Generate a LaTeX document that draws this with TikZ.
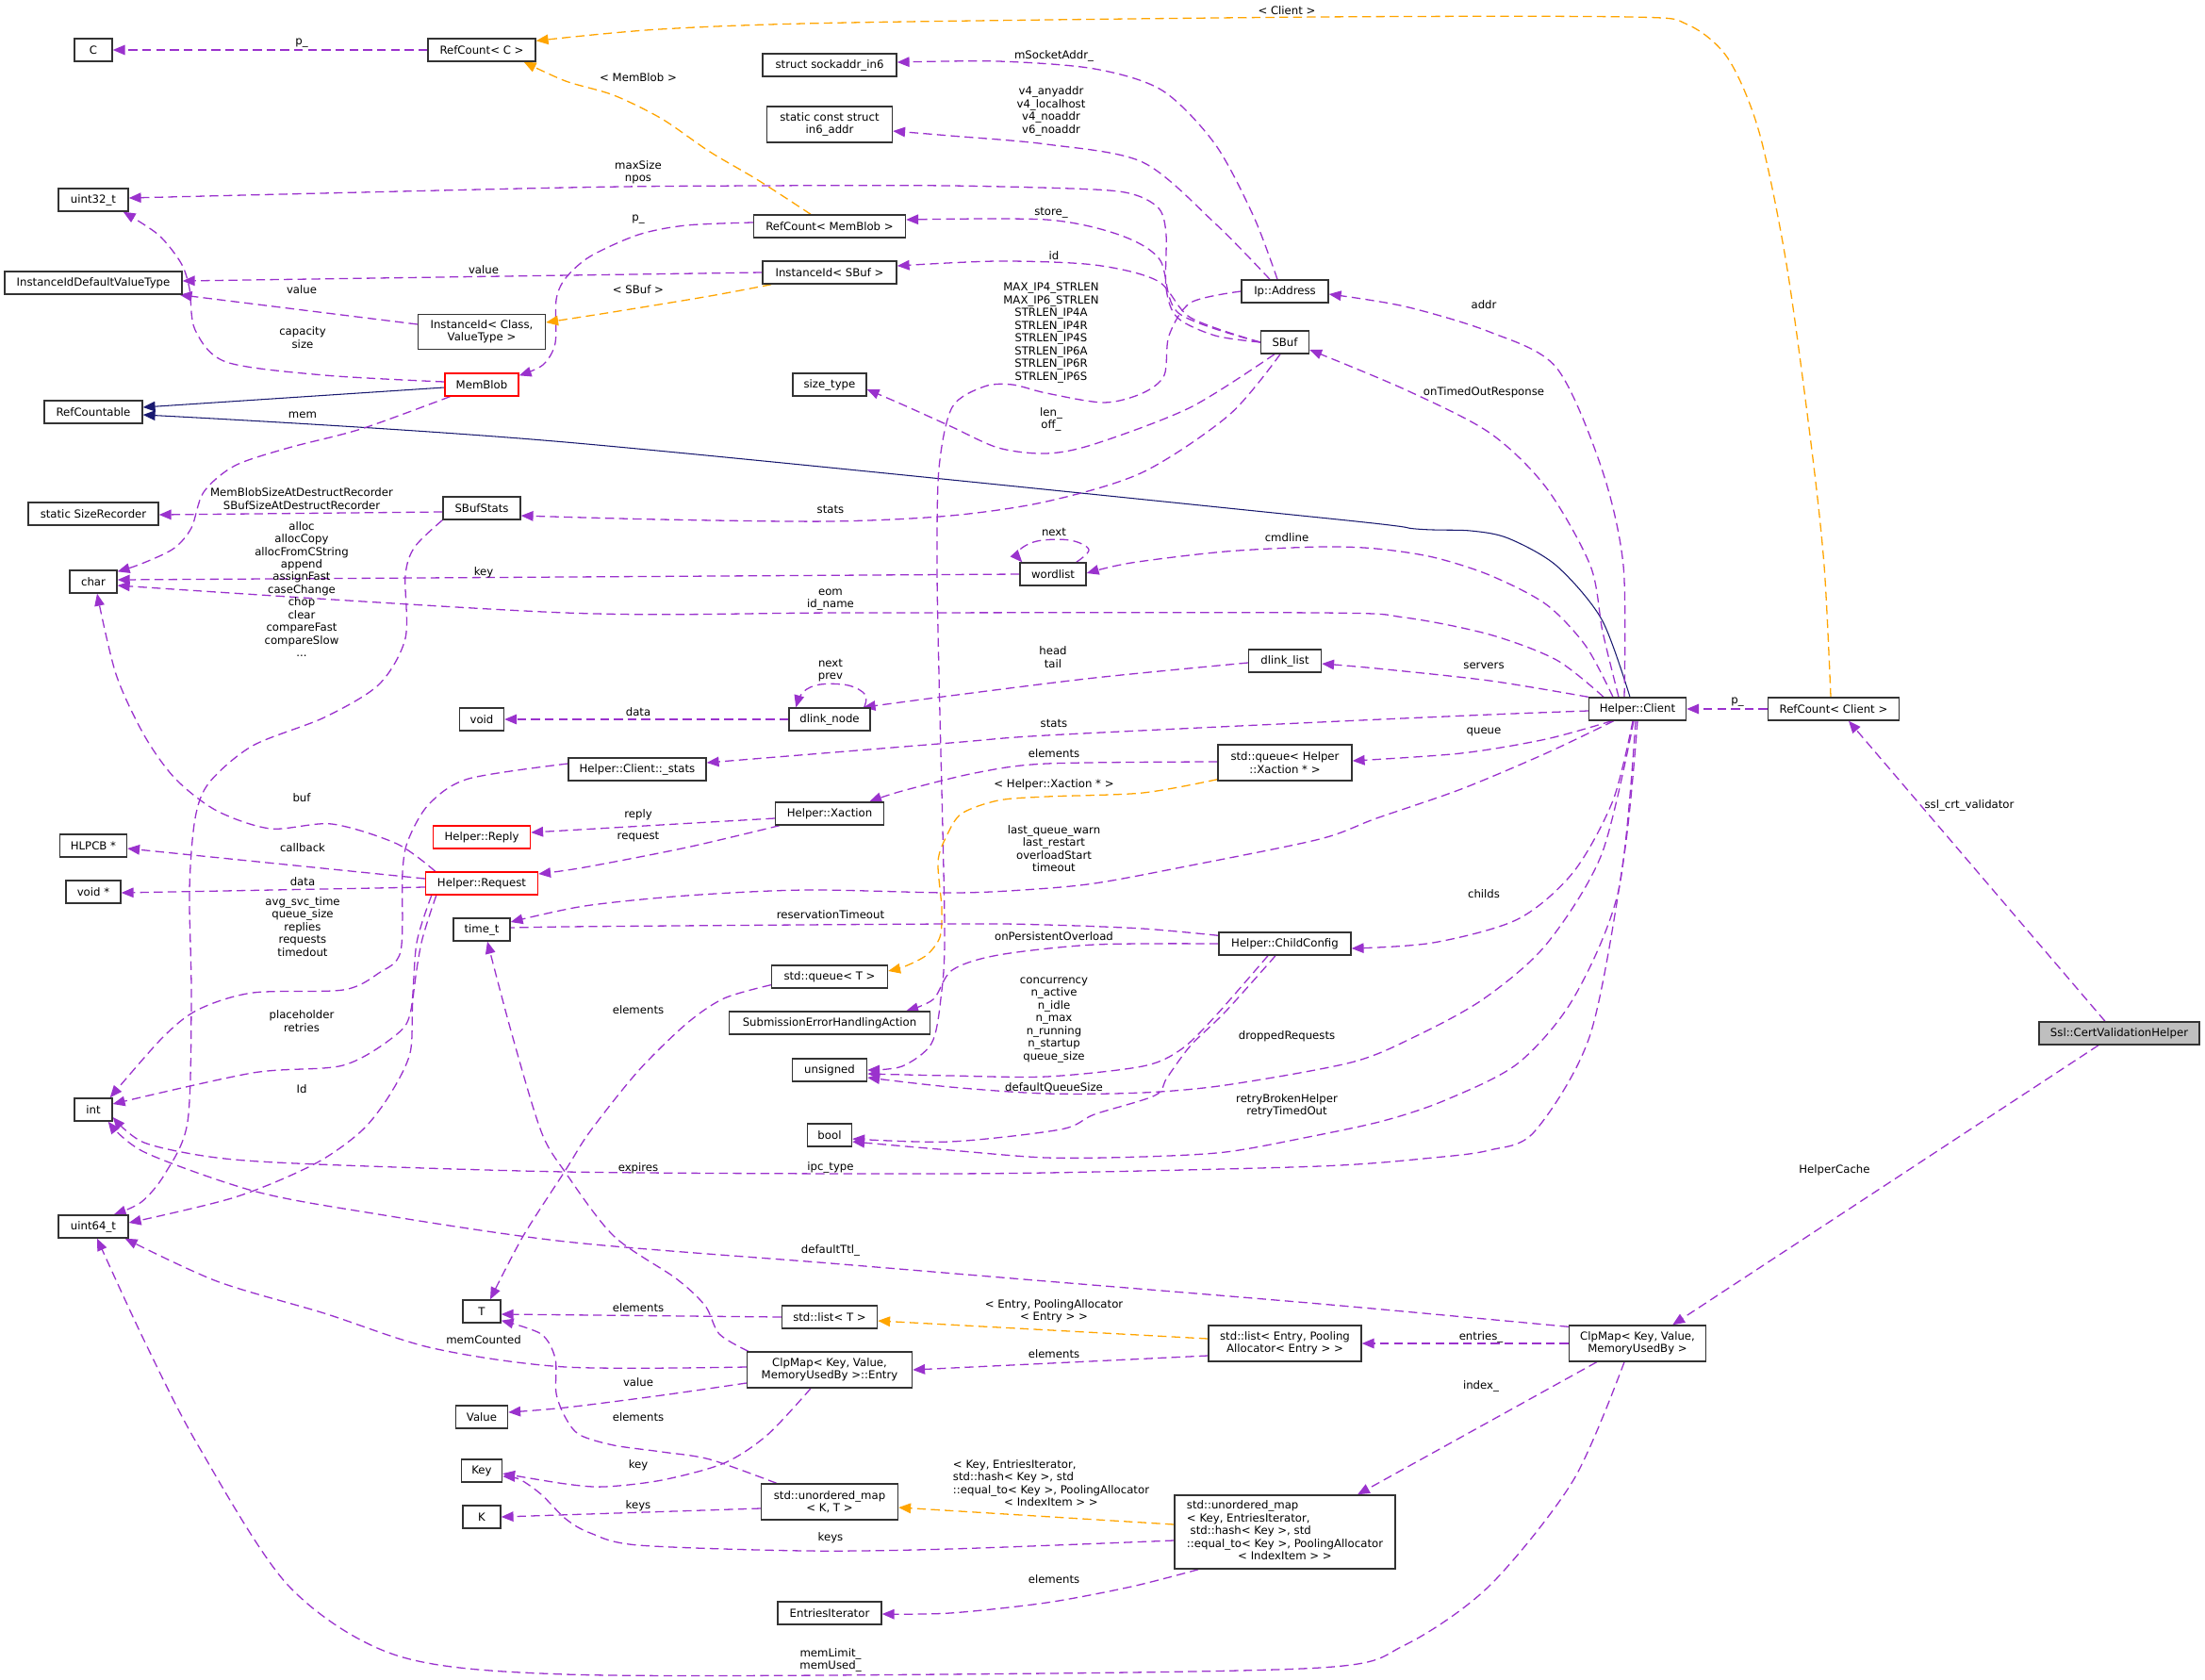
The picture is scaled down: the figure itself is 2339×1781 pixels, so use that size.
\documentclass[tikz,border=0pt]{standalone}
\usepackage{fontspec}
\setmainfont{DejaVu Sans}
\usetikzlibrary{arrows.meta,calc}
\definecolor{pur}{HTML}{9A32CD}
\definecolor{org}{HTML}{FFA500}
\definecolor{nav}{HTML}{191970}
\definecolor{grayfill}{HTML}{BFBFBF}
\newcommand\fs{\fontsize{10}{11.5}\selectfont}
\pgfdeclarelayer{bgl}
\pgfdeclarelayer{edges}
\pgfsetlayers{bgl,edges,main}
\begin{document}
\begin{tikzpicture}[x=0.03cm,y=-0.03cm,
 cls/.style={draw=black!80, fill=white, line width=1.2pt, minimum height=0.72cm, inner sep=1pt, align=center, font=\fs},
 bw/.style={minimum width=#1*0.03cm},
 bh/.style={minimum height=#1*0.03cm},
 redc/.style={cls, draw=red},
 lbl/.style={inner sep=0pt, align=center, font=\fs},
 pe/.style={draw=pur, line width=1.1pt, dash pattern=on 8pt off 4.5pt, -{Triangle[length=11pt,width=9pt]}},
 oe/.style={pe, draw=org},
 ne/.style={draw=nav, line width=0.9pt, -{Triangle[length=11pt,width=9pt]}},
 sm/.style={smooth, tension=0.5}
]
\begin{pgfonlayer}{bgl}
\fill[white] (0,0) rectangle (2339,1781);
\end{pgfonlayer}
\useasboundingbox (0,0) rectangle (2339,1781);

% ---------- nodes ----------
\node[cls,bw=40] (nC) at (99,53) {C};
\node[cls,bw=114] (nRCC) at (511,53) {RefCount< C >};
\node[cls,bw=74] (nU32) at (99,212) {uint32\_t};
\node[cls,bw=188] (nIIDV) at (99,300) {InstanceIdDefaultValueType};
\node[cls,bw=135,bh=37] (nIIC) at (511,352) {InstanceId< Class,\\ValueType >};
\node[redc,bw=78] (nMB) at (511,408) {MemBlob};
\node[cls,bw=104] (nRCable) at (99,437) {RefCountable};
\node[cls,bw=138] (nSSR) at (99,545) {static SizeRecorder};
\node[cls,bw=82] (nSBS) at (511,539) {SBufStats};
\node[cls,bw=142] (nSock) at (880,69) {struct sockaddr\_in6};
\node[cls,bw=133,bh=38] (nIn6) at (880,132) {static const struct\\in6\_addr};
\node[cls,bw=161] (nRCMB) at (880,240) {RefCount< MemBlob >};
\node[cls,bw=142] (nIIS) at (880,289) {InstanceId< SBuf >};
\node[cls,bw=78] (nSizeT) at (880,408) {size\_type};
\node[cls,bw=92] (nIp) at (1363,309) {Ip::Address};
\node[cls,bw=51] (nSBuf) at (1363,363) {SBuf};
\node[cls,bw=70] (nWL) at (1117,609) {wordlist};
\node[cls,bw=50] (nChar) at (99,617) {char};
\node[cls,bw=77] (nDLL) at (1363,701) {dlink\_list};
\node[cls,bw=86] (nDLN) at (880,763) {dlink\_node};
\node[cls,bw=47] (nVoid) at (511,763) {void};
\node[cls,bw=146] (nCS) at (676,816) {Helper::Client::\_stats};
\node[cls,bw=142,bh=38] (nQX) at (1363,809) {std::queue< Helper\\::Xaction * >};
\node[cls,bw=115] (nXa) at (880,863) {Helper::Xaction};
\node[redc,bw=103] (nRep) at (511,888) {Helper::Reply};
\node[redc,bw=119] (nReq) at (511,937) {Helper::Request};
\node[cls,bw=71] (nHLPCB) at (99,897) {HLPCB *};
\node[cls,bw=58] (nVoidP) at (99,946) {void *};
\node[cls,bw=60] (nTime) at (511,986) {time\_t};
\node[cls,bw=40] (nInt) at (99,1177) {int};
\node[cls,bw=140] (nCC) at (1363,1001) {Helper::ChildConfig};
\node[cls,bw=123] (nQT) at (880,1036) {std::queue< T >};
\node[cls,bw=213] (nSEHA) at (880,1085) {SubmissionErrorHandlingAction};
\node[cls,bw=79] (nUns) at (880,1135) {unsigned};
\node[cls,bw=47] (nBool) at (880,1204) {bool};
\node[cls,bw=103] (nHC) at (1737,752) {Helper::Client};
\node[cls,bw=139] (nRCCl) at (1945,752) {RefCount< Client >};
\node[cls,bw=170,fill=grayfill] (nCVH) at (2248,1096) {Ssl::CertValidationHelper};
\node[cls,bw=74] (nU64) at (99,1301) {uint64\_t};
\node[cls,bw=40] (nT) at (511,1391) {T};
\node[cls,bw=55] (nVal) at (511,1503) {Value};
\node[cls,bw=43] (nKey) at (511,1560) {Key};
\node[cls,bw=40] (nK) at (511,1609) {K};
\node[cls,bw=101] (nLT) at (880,1397) {std::list< T >};
\node[cls,bw=175,bh=38] (nEnt) at (880,1453) {ClpMap< Key, Value,\\MemoryUsedBy >::Entry};
\node[cls,bw=145,bh=38] (nUMKT) at (880,1593) {std::unordered\_map\\< K, T >};
\node[cls,bw=110] (nEI) at (880,1711) {EntriesIterator};
\node[cls,bw=162,bh=38] (nLE) at (1363,1425) {std::list< Entry, Pooling\\Allocator< Entry > >};
\node[cls,bw=234,bh=78] (nUMB) at (1363,1625) {\begin{tabular}{@{}l@{}}std::unordered\_map\\< Key, EntriesIterator,\\\ std::hash< Key >, std\\::equal\_to< Key >, PoolingAllocator\\\multicolumn{1}{@{}c@{}}{< IndexItem > >}\end{tabular}};
\node[cls,bw=145,bh=38] (nClp) at (1737,1425) {ClpMap< Key, Value,\\MemoryUsedBy >};

% ---------- labels ----------
\node[lbl] (l1) at (320,46) {p\_};
\node[lbl] (l2) at (1365,11) {< Client >};
\node[lbl] (l3) at (677,82) {< MemBlob >};
\node[lbl] (l4) at (677,183) {maxSize\\npos};
\node[lbl] (l5) at (677,233) {p\_};
\node[lbl] (l6) at (513,286) {value};
\node[lbl] (l7) at (677,307) {< SBuf >};
\node[lbl] (l8) at (320,307) {value};
\node[lbl] (l9) at (321,358) {capacity\\size};
\node[lbl] (l12) at (321,440) {mem};
\node[lbl] (l13) at (1115,226) {store\_};
\node[lbl] (l14) at (1118,271) {id};
\node[lbl] (l15) at (1118,59) {mSocketAddr\_};
\node[lbl] (l16) at (1115,118) {v4\_anyaddr\\v4\_localhost\\v4\_noaddr\\v6\_noaddr};
\node[lbl] (l17) at (1115,353) {MAX\_IP4\_STRLEN\\MAX\_IP6\_STRLEN\\STRLEN\_IP4A\\STRLEN\_IP4R\\STRLEN\_IP4S\\STRLEN\_IP6A\\STRLEN\_IP6R\\STRLEN\_IP6S};
\node[lbl] (l18) at (1115,445) {len\_\\off\_};
\node[lbl] (l19) at (881,540) {stats};
\node[lbl] (l20) at (320,529) {MemBlobSizeAtDestructRecorder\\SBufSizeAtDestructRecorder};
\node[lbl] (l21) at (320,625) {alloc\\allocCopy\\allocFromCString\\append\\assignFast\\caseChange\\chop\\clear\\compareFast\\compareSlow\\...};
\node[lbl] (l22) at (513,607) {key};
\node[lbl] (l23) at (1118,564) {next};
\node[lbl] (l24) at (1365,570) {cmdline};
\node[lbl] (l25) at (881,636) {eom\\id\_name};
\node[lbl] (l26) at (1574,323) {addr};
\node[lbl] (l27) at (1574,416) {onTimedOutResponse};
\node[lbl] (l28) at (1574,706) {servers};
\node[lbl] (l29) at (1117,697) {head\\tail};
\node[lbl] (l30) at (881,711) {next\\prev};
\node[lbl] (l31) at (677,755) {data};
\node[lbl] (l32) at (1118,767) {stats};
\node[lbl] (l33) at (1574,776) {queue};
\node[lbl] (l34) at (1118,799) {elements};
\node[lbl] (l35) at (1118,832) {< Helper::Xaction * >};
\node[lbl] (l36) at (1118,900) {last\_queue\_warn\\last\_restart\\overloadStart\\timeout};
\node[lbl] (l37) at (677,864) {reply};
\node[lbl] (l38) at (677,888) {request};
\node[lbl] (l39) at (321,899) {callback};
\node[lbl] (l40) at (321,935) {data};
\node[lbl] (l41) at (320,846) {buf};
\node[lbl] (l42) at (321,983) {avg\_svc\_time\\queue\_size\\replies\\requests\\timedout};
\node[lbl] (l43) at (320,1083) {placeholder\\retries};
\node[lbl] (l44) at (320,1155) {Id};
\node[lbl] (l45) at (1574,948) {childs};
\node[lbl] (l46) at (881,970) {reservationTimeout};
\node[lbl] (l47) at (1118,993) {onPersistentOverload};
\node[lbl] (l48) at (1118,1082) {concurrency\\n\_active\\n\_idle\\n\_max\\n\_running\\n\_startup\\queue\_size};
\node[lbl] (l49) at (1365,1099) {droppedRequests};
\node[lbl] (l50) at (1118,1154) {defaultQueueSize};
\node[lbl] (l51) at (1365,1173) {retryBrokenHelper\\retryTimedOut};
\node[lbl] (l52) at (881,1238) {ipc\_type};
\node[lbl] (l53) at (881,1326) {defaultTtl\_};
\node[lbl] (l54) at (677,1387) {elements};
\node[lbl] (l55) at (677,1071) {elements};
\node[lbl] (l56) at (677,1503) {elements};
\node[lbl] (l57) at (513,1421) {memCounted};
\node[lbl] (l58) at (677,1466) {value};
\node[lbl] (l59) at (677,1554) {key};
\node[lbl] (l60) at (677,1597) {keys};
\node[lbl] (l61) at (881,1631) {keys};
\node[lbl] (l62) at (1115,1575) {\begin{tabular}{@{}l@{}}< Key, EntriesIterator,\\std::hash< Key >, std\\::equal\_to< Key >, PoolingAllocator\\\multicolumn{1}{@{}c@{}}{< IndexItem > >}\end{tabular}};
\node[lbl] (l63) at (1118,1675) {elements};
\node[lbl] (l64) at (1118,1391) {< Entry, PoolingAllocator\\< Entry > >};
\node[lbl] (l65) at (1118,1436) {elements};
\node[lbl] (l66) at (1571,1418) {entries\_};
\node[lbl] (l67) at (1571,1470) {index\_};
\node[lbl] (l68) at (881,1761) {memLimit\_\\memUsed\_};
\node[lbl] (l69) at (2089,854) {ssl\_crt\_validator};
\node[lbl] (l70) at (1946,1241) {HelperCache};
\node[lbl] (l71) at (1843,745) {p\_};
\node[lbl] (l72) at (677,1239) {expires};

% ---------- edges ----------
\begin{pgfonlayer}{edges}
\draw[pe] (nRCC) -- (nC);
\draw[oe] plot[sm] coordinates {($(nRCCl.north)+(-3,0)$) (1935,600) (1921,470) (1895,280) (1866,140) (1833,62) (1790,26) (1730,18) (1400,18) (900,24) (700,31) ($(nRCC.north east)+(0,3)$)};
\draw[oe] plot[sm] coordinates {($(nRCMB.north)+(-20,0)$) (804,191) (753,161) (702,126) (651,101) (600,86) ($(nRCC.south east)+(-13,0)$)};
\draw[pe] plot[sm] coordinates {(nSBuf.west) (1289,356) (1249,337) (1237,306) (1237,249) (1230,222) (1205,207) (1161,201) (1008,197) (804,197) (600,199) ($(nU32.east)+(0,-2)$)};
\draw[pe] plot[sm] coordinates {($(nRCMB.west)+(0,-4)$) (728,239) (677,249) (626,272) (600,295) (590,318) (589,364) (576,387) ($(nMB.north east)+(0,3)$)};
\draw[pe] (nIIS.west) -- ($(nIIDV.east)+(0,-2)$);
\draw[oe] plot[sm] coordinates {($(nIIS.south west)+(10,0)$) (753,314) (650,331) ($(nIIC.east)+(0,-10)$)};
\draw[pe] ($(nIIC.west)+(0,-8)$) -- ($(nIIDV.south east)+(-3,0)$);
\draw[pe] plot[sm] coordinates {($(nMB.west)+(0,-3)$) (344,398) (240,384) (207,350) (201,306) (192,279) (168,249) ($(nU32.south east)+(-6,0)$)};
\draw[ne] ($(nMB.west)+(0,3)$) -- ($(nRCable.east)+(0,-5)$);
\draw[ne] plot[sm] coordinates {($(nHC.north)+(-8,0)$) (1699,657) (1651,600) (1600,571) (1560,563) (1502,561) (1400,549) (600,469) ($(nRCable.east)+(0,3)$)};
\draw[pe] plot[sm] coordinates {($(nMB.south west)+(6,0)$) (383,455) (306,475) (249,494) (216,522) (203,560) (184,582) (150,598) ($(nChar.north east)+(0,2)$)};
\draw[pe] plot[sm] coordinates {(nSBuf.west) (1250,332) (1230,275) (1187,249) (1110,233) ($(nRCMB.east)+(0,-7)$)};
\draw[pe] plot[sm] coordinates {(nSBuf.west) (1263,337) (1228,298) (1161,281) (1059,277) ($(nIIS.east)+(0,-7)$)};
\draw[pe] plot[sm] coordinates {($(nIp.north)+(-8,0)$) (1330,230) (1289,153) (1233,96) (1161,73) (1059,65) ($(nSock.east)+(0,-3)$)};
\draw[pe] plot[sm] coordinates {($(nIp.north)+(-16,0)$) (1289,237) (1212,172) (1110,153) (1008,144) ($(nIn6.east)+(0,7)$)};
\draw[pe] plot[sm] coordinates {(nIp.west) (1263,321) (1240,356) (1235,398) (1212,417) (1171,427) (1110,417) (1074,408) (1044,410) (1010,432) (996,497) (994,600) (996,715) (1002,983) (998,1059) (988,1107) (957,1131) (nUns.east)};
\draw[pe] plot[sm] coordinates {($(nSBuf.south)+(-11,0)$) (1263,432) (1161,471) (1110,481) (1059,475) (1008,452) (957,429) ($(nSizeT.east)+(0,5)$)};
\draw[pe] plot[sm] coordinates {($(nSBuf.south)+(-5,0)$) (1304,440) (1212,501) (1110,532) (1008,547) (881,553) (700,551) ($(nSBS.east)+(0,8)$)};
\draw[pe] ($(nSBS.west)+(0,4)$) -- ($(nSSR.east)+(0,1)$);
\draw[pe] plot[sm] coordinates {(nSBS.south west) (440,580) (430,610) (430,677) (402,726) (344,761) (268,791) (222,830) (207,868) (201,944) (203,1059) (199,1190) (175,1245) (150,1275) ($(nU64.north east)+(-16,0)$)};
\draw[pe] (nWL.west) -- ($(nChar.east)+(0,-2)$);
\draw[pe] plot[smooth,tension=0.6] coordinates {($(nWL.north east)+(-11,0)$) (1155,583) (1135,573) (1100,574) (1080,585) ($(nWL.north west)+(3,0)$)};
\draw[pe] plot[sm] coordinates {($(nHC.north)+(-26,0)$) (1682,685) (1640,641) (1580,610) (1520,591) (1460,582) (1400,580) (1300,585) (1200,597) ($(nWL.east)+(0,-1)$)};
\draw[pe] plot[sm] coordinates {($(nHC.north)+(-36,0)$) (1651,700) (1580,673) (1490,655) (1400,650) (900,650) (600,650) ($(nChar.east)+(0,4)$)};
\draw[pe] plot[sm] coordinates {($(nHC.north)+(-14,0)$) (1722,600) (1699,497) (1651,390) (1580,352) (1490,325) ($(nIp.east)+(0,3)$)};
\draw[pe] plot[sm] coordinates {($(nHC.north)+(-20,0)$) (1700,670) (1687,600) (1640,517) (1580,459) (1490,413) ($(nSBuf.east)+(0,8)$)};
\draw[pe] plot[sm] coordinates {(nHC.north west) (1580,722) (1460,709) ($(nDLL.east)+(0,3)$)};
\draw[pe] plot[sm] coordinates {($(nDLL.west)+(0,2)$) (1161,719) (1008,738) ($(nDLN.north east)+(-8,0)$)};
\draw[pe] plot[smooth,tension=0.6] coordinates {($(nDLN.north east)+(-7,0)$) (918,737) (900,727) (870,726) (852,734) ($(nDLN.north west)+(8,0)$)};
\draw[pe] (nDLN) -- (nVoid);
\draw[pe] plot[sm] coordinates {($(nHC.west)+(0,2)$) (1580,758) (1400,766) (1110,780) (1008,788) ($(nCS.east)+(0,-7)$)};
\draw[pe] plot[sm] coordinates {($(nHC.south west)+(25,0)$) (1640,784) (1550,799) ($(nQX.east)+(0,-2)$)};
\draw[pe] plot[sm] coordinates {($(nQX.west)+(0,-1)$) (1110,810) (1034,820) (957,839) ($(nXa.north east)+(-16,0)$)};
\draw[oe] plot[sm] coordinates {($(nQX.south west)+(0,-2)$) (1212,841) (1110,845) (1059,849) (1020,863) (1004,887) (995,914) (999,964) (997,994) (983,1013) (960,1025) ($(nQT.east)+(0,-6)$)};
\draw[pe] plot[sm] coordinates {($(nHC.south west)+(27,0)$) (1640,799) (1550,837) (1460,868) (1400,890) (1263,918) (1161,937) (1085,944) (1008,947) (855,944) (728,950) (620,961) ($(nTime.east)+(0,-8)$)};
\draw[pe] ($(nXa.west)+(0,5)$) -- ($(nRep.east)+(0,-5)$);
\draw[pe] plot[sm] coordinates {($(nXa.south west)+(5,0)$) (728,899) (620,920) ($(nReq.east)+(0,-10)$)};
\draw[pe] ($(nReq.west)+(0,-5)$) -- ($(nHLPCB.east)+(0,3)$);
\draw[pe] ($(nReq.west)+(0,4)$) -- ($(nVoidP.east)+(0,1)$);
\draw[pe] plot[sm] coordinates {($(nReq.north west)+(11,0)$) (421,895) (352,874) (287,879) (230,860) (186,826) (153,780) (123,715) ($(nChar.south)+(4,0)$)};
\draw[pe] plot[sm] coordinates {($(nCS.west)+(0,-6)$) (497,826) (455,853) (433,891) (427,925) (425,1009) (402,1032) (364,1050) (268,1053) (210,1071) (172,1101) ($(nInt.north east)+(-3,0)$)};
\draw[pe] plot[sm] coordinates {($(nReq.south west)+(7,0)$) (442,1000) (436,1071) (421,1097) (364,1130) (268,1138) ($(nInt.east)+(0,-6)$)};
\draw[pe] plot[sm] coordinates {($(nReq.south west)+(12,0)$) (447,1000) (438,1060) (435,1117) (413,1162) (383,1200) (333,1235) (249,1270) ($(nU64.east)+(0,-4)$)};
\draw[pe] plot[sm] coordinates {($(nHC.south)+(-5,0)$) (1711,849) (1669,925) (1610,975) (1520,1000) ($(nCC.east)+(0,5)$)};
\draw[pe] plot[sm] coordinates {($(nCC.north west)+(0,4)$) (1212,985) (1110,981) (1008,980) (600,983) ($(nTime.east)+(0,-1)$)};
\draw[pe] plot[sm] coordinates {(nCC.west) (1161,1002) (1059,1013) (1010,1029) (990,1060) ($(nSEHA.north east)+(-26,0)$)};
\draw[pe] plot[sm] coordinates {($(nCC.south)+(-18,0)$) (1289,1078) (1253,1113) (1212,1131) (1110,1142) (1008,1141) ($(nUns.east)+(0,4)$)};
\draw[pe] plot[sm] coordinates {($(nHC.south)+(-4,0)$) (1699,906) (1640,1002) (1573,1060) (1500,1100) (1433,1127) (1300,1151) (1212,1159) (1110,1160) (1008,1153) ($(nUns.east)+(0,8)$)};
\draw[pe] plot[sm] coordinates {($(nCC.south)+(-10,0)$) (1300,1073) (1263,1109) (1238,1143) (1225,1162) (1161,1182) (1125,1198) (1008,1211) ($(nBool.east)+(0,4)$)};
\draw[pe] plot[sm] coordinates {($(nHC.south)+(-2,0)$) (1717,944) (1669,1059) (1610,1128) (1533,1167) (1467,1189) (1383,1207) (1300,1222) (1212,1227) (1110,1228) (1008,1220) ($(nBool.east)+(0,7)$)};
\draw[pe] plot[sm] coordinates {(nHC.south) (1723,906) (1687,1097) (1628,1200) (1580,1220) (1520,1228) (1400,1237) (1110,1244) (906,1245) (600,1243) (337,1235) (230,1228) (153,1212) ($(nInt.east)+(0,8)$)};
\draw[pe] plot[sm] coordinates {($(nClp.north west)+(0,2)$) (1400,1383) (1110,1359) (881,1340) (600,1317) (383,1285) (268,1263) (153,1222) ($(nInt.south east)+(-5,0)$)};
\draw[pe] (nLT.west) -- ($(nT.east)+(0,3)$);
\draw[pe] plot[sm] coordinates {($(nQT.south west)+(0,-4)$) (768,1059) (728,1086) (677,1136) (626,1200) (600,1241) (555,1311) ($(nT.north)+(9,0)$)};
\draw[pe] plot[sm] coordinates {($(nUMKT.north west)+(17,0)$) (753,1548) (702,1540) (651,1533) (615,1522) (600,1504) (590,1478) (589,1441) (574,1415) ($(nT.south east)+(0,-3)$)};
\draw[pe] plot[sm] coordinates {($(nEnt.west)+(0,-3)$) (600,1450) (459,1430) (344,1393) (230,1359) ($(nU64.south east)+(-4,0)$)};
\draw[pe] plot[sm] coordinates {($(nEnt.west)+(0,14)$) (702,1480) (600,1493) ($(nVal.east)+(0,-5)$)};
\draw[pe] plot[sm] coordinates {($(nEnt.south)+(-20,0)$) (814,1522) (768,1552) (702,1570) (641,1577) (600,1574) ($(nKey.east)+(0,3)$)};
\draw[pe] ($(nUMKT.west)+(0,7)$) -- (nK.east);
\draw[pe] plot[sm] coordinates {($(nUMB.west)+(0,9)$) (1008,1643) (855,1645) (677,1639) (626,1626) (600,1611) (574,1585) (551,1569) ($(nKey.east)+(0,6)$)};
\draw[oe] ($(nUMB.west)+(0,-8)$) -- ($(nUMKT.east)+(0,6)$);
\draw[pe] plot[sm] coordinates {($(nUMB.south west)+(26,0)$) (1200,1683) (1110,1700) (1008,1711) ($(nEI.east)+(0,1)$)};
\draw[oe] ($(nLE.west)+(0,-5)$) -- ($(nLT.east)+(0,4)$);
\draw[pe] ($(nLE.west)+(0,13)$) -- (nEnt.east);
\draw[pe] (nClp) -- (nLE);
\draw[pe] ($(nClp.south west)+(30,0)$) -- ($(nUMB.north)+(77,0)$);
\draw[pe] plot[sm] coordinates {($(nClp.south)+(-14,0)$) (1669,1570) (1580,1682) (1490,1745) (1400,1769) (1000,1776) (600,1776) (421,1756) (306,1682) (210,1533) (153,1422) ($(nU64.south)+(4,0)$)};
\draw[pe] ($(nCVH.north)+(-15,0)$) -- ($(nRCCl.south)+(16,0)$);
\draw[pe] ($(nCVH.south)+(-22,0)$) -- ($(nClp.north east)+(-36,0)$);
\draw[pe] (nRCCl) -- (nHC);
\draw[pe] plot[sm] coordinates {($(nEnt.north west)+(2,0)$) (763,1415) (748,1385) (717,1356) (651,1311) (600,1244) (574,1200) (543,1097) ($(nTime.south)+(6,0)$)};
\end{pgfonlayer}
\end{tikzpicture}
\end{document}
